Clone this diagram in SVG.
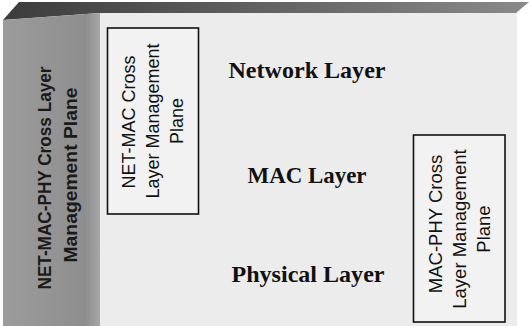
<svg xmlns="http://www.w3.org/2000/svg" width="529" height="326" viewBox="0 0 529 326">
  <defs>
    <linearGradient id="topg" x1="0" y1="0" x2="1" y2="0">
      <stop offset="0" stop-color="#3c3c3c"/>
      <stop offset="0.6" stop-color="#6a6a6a"/>
      <stop offset="1" stop-color="#8a8a8a"/>
    </linearGradient>
    <linearGradient id="sideg" x1="0" y1="0" x2="1" y2="0">
      <stop offset="0" stop-color="#9c9c9c"/>
      <stop offset="0.85" stop-color="#8e8e8e"/>
      <stop offset="1" stop-color="#a8a8a8"/>
    </linearGradient>
  </defs>
  <style>
    .layer { font-family: "Liberation Serif", "Times New Roman", serif; font-weight: bold; font-size: 23px; fill: #111; text-anchor: middle; }
    .plane { font-family: "Liberation Sans", Arial, sans-serif; font-size: 18px; fill: #111; text-anchor: middle; }
    .side { font-family: "Liberation Sans", Arial, sans-serif; font-weight: bold; font-size: 17.5px; fill: #1a1a1a; text-anchor: middle; }
    .box { fill: #f2f2f2; stroke: #111; stroke-width: 1.6; }
  </style>
  <rect x="0" y="0" width="529" height="326" fill="#ffffff"/>
  <g id="front">
    <rect x="100" y="12" width="417" height="314" fill="#ececec"/>
  </g>
  <g id="top-face">
    <polygon points="3,20 19,2 529,2 516,13 100,13" fill="url(#topg)"/>
  </g>
  <g id="side-plane">
    <polygon points="3,20 100,13 100,326 3,326" fill="url(#sideg)"/>
    <text class="side" transform="translate(51,178) rotate(-90)" textLength="223" lengthAdjust="spacingAndGlyphs">NET-MAC-PHY Cross Layer</text>
    <text class="side" transform="translate(77,175) rotate(-90)" textLength="175" lengthAdjust="spacingAndGlyphs">Management Plane</text>
  </g>
  <g id="connectors"></g>
  <g id="net-mac-plane">
    <rect class="box" x="107.5" y="28" width="91" height="186"/>
    <text class="plane" transform="translate(135,122) rotate(-90)">NET-MAC Cross</text>
    <text class="plane" transform="translate(159,121) rotate(-90)">Layer Management</text>
    <text class="plane" transform="translate(183,121) rotate(-90)">Plane</text>
  </g>
  <g id="mac-phy-plane">
    <rect class="box" x="413.5" y="135" width="91.5" height="187"/>
    <text class="plane" transform="translate(442,224) rotate(-90)" style="font-size:18.5px">MAC-PHY Cross</text>
    <text class="plane" transform="translate(466,229) rotate(-90)" style="font-size:18.5px">Layer Management</text>
    <text class="plane" transform="translate(490,229) rotate(-90)" style="font-size:18.5px">Plane</text>
  </g>
  <g id="network-layer">
    <text class="layer" x="307" y="78" textLength="157" lengthAdjust="spacingAndGlyphs">Network Layer</text>
  </g>
  <g id="mac-layer">
    <text class="layer" x="307" y="183" textLength="119" lengthAdjust="spacingAndGlyphs">MAC Layer</text>
  </g>
  <g id="physical-layer">
    <text class="layer" x="308" y="282" textLength="153" lengthAdjust="spacingAndGlyphs">Physical Layer</text>
  </g>
</svg>
